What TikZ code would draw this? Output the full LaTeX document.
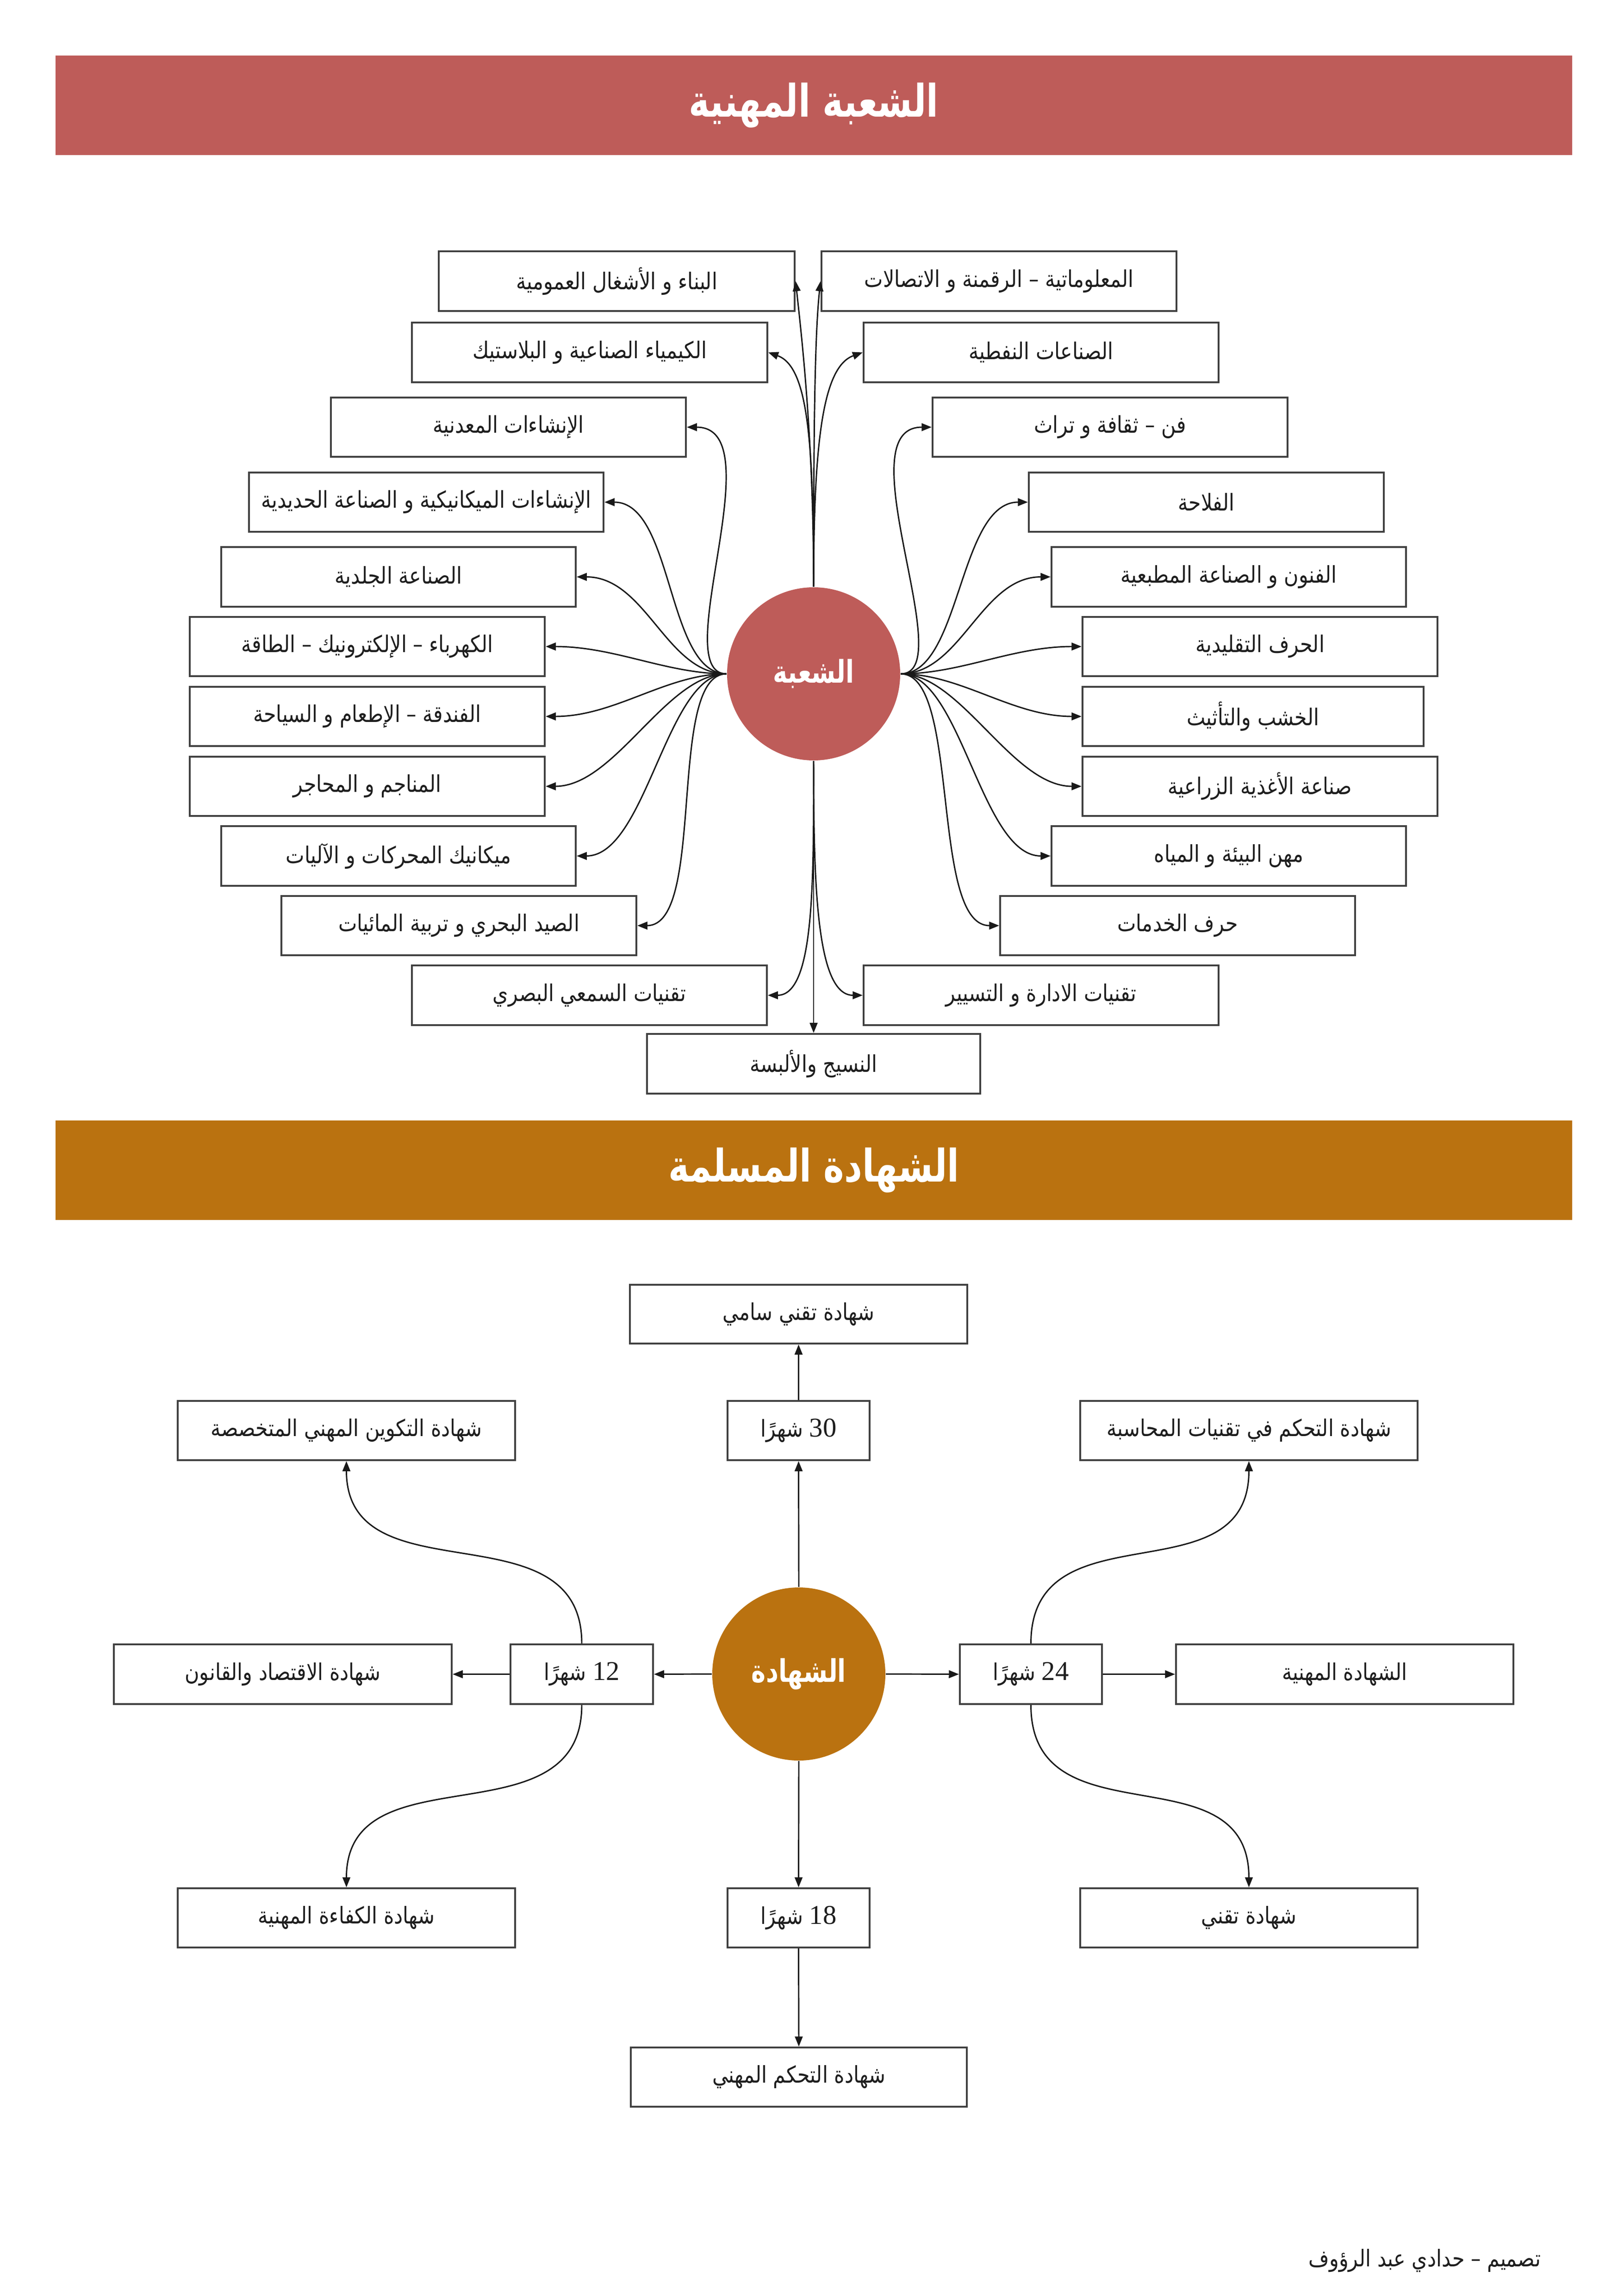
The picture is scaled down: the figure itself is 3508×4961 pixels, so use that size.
\documentclass[tikz,border=0pt]{standalone}
\usepackage{fontspec}
\setmainfont{Liberation Serif}
\newfontfamily\arabicfont[Script=Arabic, FakeStretch=0.86]{DejaVu Sans}
\newfontfamily\titlefont[Script=Arabic, FakeStretch=0.78]{DejaVu Sans}
\newfontfamily\numfont{Liberation Serif}
\TeXXeTstate=1
\usetikzlibrary{arrows.meta}
\definecolor{redc}{RGB}{190,92,89}
\definecolor{orangec}{RGB}{186,114,16}
\definecolor{boxline}{RGB}{64,64,64}
\definecolor{txt}{RGB}{30,30,30}
\newcommand{\mkbox}[6]{\node[bx, minimum width={(#4-#2)*0.05986mm}, minimum height={(#5-#3)*0.05986mm}] (#1) at ({(#2+#4)/2},{(#3+#5)/2}) {#6};}
\begin{document}
\begin{tikzpicture}[x=0.05986mm, y=-0.05986mm,
  bx/.style={draw=boxline, line width=0.7pt, fill=white, inner sep=0pt, text=txt, font=\arabicfont\fontsize{8.5}{10}\selectfont},
  arr/.style={-{Triangle[length=1.3mm,width=1mm]}, line width=0.5pt, draw=black!90},
  banner/.style={inner sep=0pt, text=white, font=\titlefont\fontsize{16.5}{20}\selectfont\bfseries, minimum width={3277*0.05986mm}, minimum height={215*0.05986mm}},
  hub/.style={circle, inner sep=0pt, text=white, font=\titlefont\fontsize{11.5}{14}\selectfont\bfseries, minimum size={374*0.05986mm}}]
\fill[white] (0,0) rectangle (3508,4961);
\useasboundingbox (0,0) rectangle (3508,4961);

% banners
\node[banner, fill=redc] (ban1) at (1758.5,227.5) {\beginR الشعبة المهنية\endR};
\node[banner, fill=orangec] (ban2) at (1758.5,2528.5) {\beginR الشهادة المسلمة\endR};

% hub 1
\node[hub, fill=redc] (c1) at (1758,1456) {\beginR الشعبة\endR};

% left column
\mkbox{L1}{948}{543}{1717}{672}{\beginR البناء و الأشغال العمومية\endR}
\mkbox{L2}{890}{697}{1658}{826}{\beginR الكيمياء الصناعية و البلاستيك\endR}
\mkbox{L3}{715}{859}{1482}{987}{\beginR الإنشاءات المعدنية\endR}
\mkbox{L4}{538}{1021}{1304}{1149}{\beginR الإنشاءات الميكانيكية و الصناعة الحديدية\endR}
\mkbox{L5}{478}{1182}{1244}{1311}{\beginR الصناعة الجلدية\endR}
\mkbox{L6}{410}{1333}{1177}{1461}{\beginR الكهرباء – الإلكترونيك – الطاقة\endR}
\mkbox{L7}{410}{1484}{1177}{1612}{\beginR الفندقة – الإطعام و السياحة\endR}
\mkbox{L8}{410}{1635}{1177}{1763}{\beginR المناجم و المحاجر\endR}
\mkbox{L9}{478}{1785}{1244}{1914}{\beginR ميكانيك المحركات و الآليات\endR}
\mkbox{L10}{608}{1936}{1375}{2064}{\beginR الصيد البحري و تربية المائيات\endR}
\mkbox{L11}{890}{2086}{1657}{2215}{\beginR تقنيات السمعي البصري\endR}
\mkbox{BT}{1398}{2234}{2118}{2363}{\beginR النسيج والألبسة\endR}

% right column
\mkbox{R1}{1775}{543}{2542}{672}{\beginR المعلوماتية – الرقمنة و الاتصالات\endR}
\mkbox{R2}{1866}{697}{2633}{826}{\beginR الصناعات النفطية\endR}
\mkbox{R3}{2015}{859}{2782}{987}{\beginR فن – ثقافة و تراث\endR}
\mkbox{R4}{2223}{1021}{2990}{1149}{\beginR الفلاحة\endR}
\mkbox{R5}{2272}{1182}{3038}{1311}{\beginR الفنون و الصناعة المطبعية\endR}
\mkbox{R6}{2339}{1333}{3106}{1461}{\beginR الحرف التقليدية\endR}
\mkbox{R7}{2339}{1484}{3076}{1612}{\beginR الخشب والتأثيث\endR}
\mkbox{R8}{2339}{1635}{3106}{1763}{\beginR صناعة الأغذية الزراعية\endR}
\mkbox{R9}{2272}{1785}{3038}{1914}{\beginR مهن البيئة و المياه\endR}
\mkbox{R10}{2161}{1936}{2928}{2064}{\beginR حرف الخدمات\endR}
\mkbox{R11}{1866}{2086}{2633}{2215}{\beginR تقنيات الادارة و التسيير\endR}

% top connectors
\draw[arr] (c1.north) .. controls +(0,-320) and +(13,120) .. (L1.east);
\draw[arr] (c1.north) .. controls +(0,-320) and +(-13,120) .. (R1.west);
\draw[arr] (c1.north) .. controls +(0,-320) and +(85,30) .. (L2.east);
\draw[arr] (c1.north) .. controls +(0,-320) and +(-85,30) .. (R2.west);
\draw[arr] (c1.west) .. controls +(-130,0) and +(190,0) .. (L3.east);
\foreach \k in {4,...,10}{
  \draw[arr] (c1.west) .. controls +(-130,0) and +(150,0) .. (L\k.east);
}
\draw[arr] (c1.east) .. controls +(130,0) and +(-190,0) .. (R3.west);
\foreach \k in {4,...,10}{
  \draw[arr] (c1.east) .. controls +(130,0) and +(-150,0) .. (R\k.west);
}
\draw[arr] (c1.south) .. controls +(0,260) and +(101,0) .. (L11.east);
\draw[arr] (c1.south) .. controls +(0,260) and +(-101,0) .. (R11.west);
\draw[arr] (c1.south) -- (BT.north);

% hub 2
\node[hub, fill=orangec] (c2) at (1726,3617) {\beginR الشهادة\endR};

\mkbox{Bts}{1361}{2776}{2090}{2903}{\beginR شهادة تقني سامي\endR}
\mkbox{B30}{1572}{3027}{1879}{3155}{\beginR{\numfont\fontsize{10}{12}\selectfont 30} شهرًا\endR}
\mkbox{Btms}{384}{3027}{1113}{3155}{\beginR شهادة التكوين المهني المتخصصة\endR}
\mkbox{Btca}{2334}{3027}{3063}{3155}{\beginR شهادة التحكم في تقنيات المحاسبة\endR}
\mkbox{B12}{1103}{3553}{1411}{3682}{\beginR{\numfont\fontsize{10}{12}\selectfont 12} شهرًا\endR}
\mkbox{Beq}{246}{3553}{976}{3682}{\beginR شهادة الاقتصاد والقانون\endR}
\mkbox{B24}{2074}{3553}{2381}{3682}{\beginR{\numfont\fontsize{10}{12}\selectfont 24} شهرًا\endR}
\mkbox{Bpro}{2541}{3553}{3270}{3682}{\beginR الشهادة المهنية\endR}
\mkbox{Bcap}{384}{4080}{1113}{4208}{\beginR شهادة الكفاءة المهنية\endR}
\mkbox{B18}{1572}{4080}{1879}{4208}{\beginR{\numfont\fontsize{10}{12}\selectfont 18} شهرًا\endR}
\mkbox{Bt}{2334}{4080}{3063}{4208}{\beginR شهادة تقني\endR}
\mkbox{Btm}{1363}{4424}{2089}{4552}{\beginR شهادة التحكم المهني\endR}

\draw[arr] (c2.north) -- (B30.south);
\draw[arr] (B30.north) -- (Bts.south);
\draw[arr] (c2.west) -- (B12.east);
\draw[arr] (B12.west) -- (Beq.east);
\draw[arr] (c2.east) -- (B24.west);
\draw[arr] (B24.east) -- (Bpro.west);
\draw[arr] (c2.south) -- (B18.north);
\draw[arr] (B18.south) -- (Btm.north);
\draw[arr] (B12.north) .. controls +(0,-300) and +(0,300) .. (Btms.south);
\draw[arr] (B12.south) .. controls +(0,300) and +(0,-300) .. (Bcap.north);
\draw[arr] (B24.north) .. controls +(0,-300) and +(0,300) .. (Btca.south);
\draw[arr] (B24.south) .. controls +(0,300) and +(0,-300) .. (Bt.north);

% footer
\node[anchor=east, inner sep=0pt, text=txt, font=\arabicfont\fontsize{8.5}{10}\selectfont] (footer) at (3330,4885) {\beginR تصميم – حدادي عبد الرؤوف\endR};
\end{tikzpicture}
\end{document}
